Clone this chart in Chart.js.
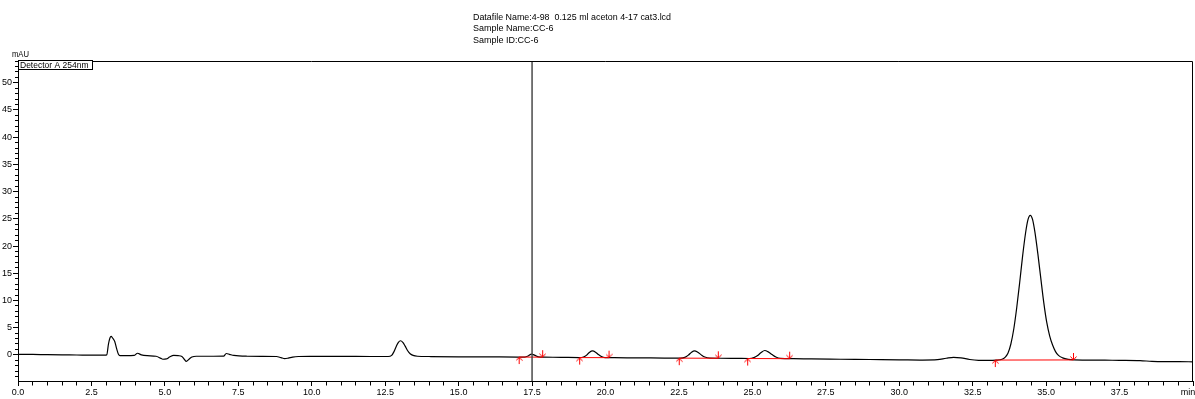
<!DOCTYPE html>
<html>
<head>
<meta charset="utf-8">
<script src="https://cdn.jsdelivr.net/npm/chart.js@4/dist/chart.umd.min.js"></script>
<style>
  html, body { margin: 0; padding: 0; background: #fff; }
  canvas { display: block; }
</style>
</head>
<body>
<canvas id="chromatogram" width="1195" height="399"></canvas>
<script>
// Report header and labels
const headerLines = [
  'Datafile Name:4-98  0.125 ml aceton 4-17 cat3.lcd',
  'Sample Name:CC-6',
  'Sample ID:CC-6'
];
const detectorLabel = 'Detector A 254nm';
const yUnit = 'mAU';
const xTickLabels = ['0.0', '2.5', '5.0', '7.5', '10.0', '12.5', '15.0', '17.5', '20.0',
                     '22.5', '25.0', '27.5', '30.0', '32.5', '35.0', '37.5', 'min'];
const yTickLabels = ['0', '5', '10', '15', '20', '25', '30', '35', '40', '45', '50'];

// Detector A trace: retention time (min) and absorbance (mAU)
const timeMin = [
  0.0, 0.5, 1.0, 1.5, 2.0, 2.5, 2.95, 3.02, 3.08, 3.13, 3.17, 3.22, 3.29, 3.36, 3.42, 3.47,
  3.7, 3.95, 4.07, 4.2, 4.4, 4.7, 4.85, 4.93, 5.05, 5.16, 5.3, 5.45, 5.58, 5.66, 5.73, 5.82,
  5.92, 6.07, 6.5, 7.0, 7.09, 7.2, 7.35, 7.8, 8.3, 8.8, 8.95, 9.08, 9.2, 9.35, 9.55, 10.0,
  11.0, 12.0, 12.6, 12.72, 12.8, 12.88, 12.95, 13.02, 13.1, 13.18, 13.26, 13.35, 13.45, 13.6,
  14.0, 15.0, 16.0, 17.0, 17.25, 17.37, 17.48, 17.6, 17.72, 17.9, 18.5, 19.1, 19.25, 19.36,
  19.46, 19.56, 19.66, 19.76, 19.86, 19.98, 20.3, 21.0, 22.0, 22.55, 22.7, 22.82, 22.93, 23.03,
  23.14, 23.26, 23.38, 23.55, 23.9, 24.5, 24.9, 25.05, 25.18, 25.3, 25.42, 25.54, 25.67, 25.8,
  25.95, 26.4, 27.0, 28.0, 29.0, 30.0, 30.8, 31.3, 31.6, 31.85, 32.1, 32.4, 32.7, 33.0, 33.3,
  33.5, 33.6, 33.7, 33.8, 33.9, 34.0, 34.1, 34.2, 34.3, 34.38, 34.46, 34.54, 34.62, 34.72,
  34.82, 34.92, 35.02, 35.12, 35.22, 35.32, 35.42, 35.56, 35.75, 35.95, 36.5, 37.0, 37.5,
  38.2, 38.6, 39.0, 39.5, 40.0
];
const absorbance = [
  0.1, 0.08, 0.03, 0.0, -0.02, -0.05, -0.05, 0.0, 2.0, 3.1, 3.4, 3.1, 2.5, 1.1, 0.1, -0.15,
  -0.15, -0.1, 0.3, 0.0, -0.15, -0.25, -0.6, -0.8, -0.75, -0.4, -0.1, -0.15, -0.3, -0.8, -1.2, -0.8,
  -0.4, -0.25, -0.25, -0.22, 0.25, 0.1, -0.1, -0.25, -0.27, -0.3, -0.5, -0.7, -0.6, -0.4, -0.3, -0.28,
  -0.27, -0.3, -0.3, -0.1, 0.6, 1.6, 2.3, 2.6, 2.3, 1.6, 0.8, 0.2, -0.1, -0.25,
  -0.3, -0.35, -0.37, -0.4, -0.4, -0.2, 0.15, -0.1, -0.38, -0.42, -0.45, -0.5, -0.4, -0.05,
  0.5, 0.72, 0.5, 0.05, -0.3, -0.5, -0.52, -0.55, -0.58, -0.6, -0.45, -0.05, 0.5, 0.75,
  0.5, 0.0, -0.4, -0.6, -0.62, -0.65, -0.67, -0.5, -0.1, 0.45, 0.8, 0.55, 0.05, -0.4,
  -0.65, -0.7, -0.75, -0.8, -0.85, -0.9, -0.95, -0.88, -0.62, -0.45, -0.55, -0.85, -1.0, -1.02, -0.97,
  -0.8, -0.45, 0.3, 2.0, 4.8, 8.7, 13.3, 18.2, 22.4, 24.8, 25.65, 24.85, 22.5, 18.5,
  14.0, 9.6, 6.0, 3.5, 1.8, 0.6, -0.1, -0.55, -0.82, -0.92, -0.95, -0.98, -1.0,
  -1.05, -1.2, -1.25, -1.25, -1.27
];

// Integration marks: peak start / end times and baseline levels
const peakStart = [17.06, 19.12, 22.51, 24.84, 33.27];
const peakEnd = [17.86, 20.12, 23.84, 26.27, 35.93];
const startLevel = [-0.4, -0.5, -0.6, -0.67, -0.95];
const endLevel = [-0.42, -0.51, -0.62, -0.7, -0.93];

// Cursor position (min)
const cursorTime = 17.5;

const FONT = '"Liberation Sans", Arial, Helvetica, sans-serif';
Chart.defaults.font.family = FONT;
Chart.defaults.color = '#000';

// Small arrow glyphs used as point styles for the integration marks
function makeArrow(up) {
  const c = document.createElement('canvas');
  c.width = 7; c.height = 16;
  const g = c.getContext('2d');
  g.strokeStyle = '#ff0000';
  g.lineWidth = 1;
  g.beginPath();
  if (up) {
    g.moveTo(3.5, 8); g.lineTo(3.5, 15);
    g.moveTo(0.5, 11.5); g.lineTo(3.5, 8); g.lineTo(6.5, 11.5);
  } else {
    g.moveTo(3.5, 1); g.lineTo(3.5, 8);
    g.moveTo(0.5, 4.5); g.lineTo(3.5, 8); g.lineTo(6.5, 4.5);
  }
  g.stroke();
  return c;
}
const upArrow = makeArrow(true);
const downArrow = makeArrow(false);

const traceData = timeMin.map((t, i) => ({ x: t, y: absorbance[i] }));

const baselineSets = peakStart.map((s, i) => ({
  type: 'line',
  data: [{ x: s, y: startLevel[i] }, { x: peakEnd[i], y: endLevel[i] }],
  borderColor: '#ff0000',
  borderWidth: 1,
  pointRadius: 0,
  tension: 0,
  order: 2
}));

const Y_MIN = -4.8, Y_MAX = 54;

// Header text, unit label, detector box and plot frame
const decorations = {
  id: 'decorations',
  afterDraw(chart) {
    const { ctx, chartArea } = chart;
    const widths = [198, 81, 67];
    const rows = [17.5, 29, 40.5];
    ctx.save();
    ctx.fillStyle = '#000';
    ctx.textBaseline = 'middle';
    ctx.textAlign = 'left';
    ctx.font = '9px ' + FONT;
    headerLines.forEach((line, i) => ctx.fillText(line, 473, rows[i], widths[i]));

    ctx.font = '9px ' + FONT;
    ctx.fillText(yUnit, 12, 55, 17);

    // frame: top and right edges
    ctx.strokeStyle = '#000';
    ctx.lineWidth = 1;
    ctx.beginPath();
    ctx.moveTo(chartArea.left, chartArea.top + 0.5);
    ctx.lineTo(chartArea.right - 0.5, chartArea.top + 0.5);
    ctx.lineTo(chartArea.right - 0.5, chartArea.bottom);
    ctx.stroke();

    // detector label box
    ctx.fillStyle = '#fff';
    ctx.fillRect(18.5, 60.5, 74, 9);
    ctx.strokeRect(18.5, 60.5, 74, 9);
    ctx.fillStyle = '#000';
    ctx.font = '8.5px ' + FONT;
    ctx.fillText(detectorLabel, 20, 65.5, 71);
    ctx.restore();
  }
};

new Chart(document.getElementById('chromatogram'), {
  type: 'line',
  data: {
    datasets: [
      {
        data: traceData,
        borderColor: '#000',
        borderWidth: 1.2,
        pointRadius: 0,
        cubicInterpolationMode: 'monotone',
        order: 3
      },
      ...baselineSets,
      {
        type: 'scatter',
        data: peakStart.map((s, i) => ({ x: s, y: startLevel[i] })),
        pointStyle: upArrow,
        pointRadius: 4,
        showLine: false,
        order: 1
      },
      {
        type: 'scatter',
        data: peakEnd.map((e, i) => ({ x: e, y: endLevel[i] })),
        pointStyle: downArrow,
        pointRadius: 4,
        showLine: false,
        order: 1
      },
      {
        type: 'line',
        data: [{ x: cursorTime, y: Y_MIN }, { x: cursorTime, y: Y_MAX }],
        borderColor: '#4a4a4a',
        borderWidth: 1.5,
        pointRadius: 0,
        order: 0
      }
    ]
  },
  options: {
    responsive: false,
    animation: false,
    events: [],
    layout: { autoPadding: false, padding: { top: 61, right: 2, left: 0, bottom: 0 } },
    plugins: {
      legend: { display: false },
      tooltip: { enabled: false },
      title: { display: false }
    },
    scales: {
      x: {
        type: 'linear',
        min: 0,
        max: 40,
        border: { color: '#000', width: 1 },
        grid: {
          drawOnChartArea: false,
          color: '#000',
          tickColor: '#000',
          tickLength: 5,
          tickBorderDash: (c) => (Math.abs(c.tick.value / 2.5 - Math.round(c.tick.value / 2.5)) < 1e-6 ? [] : [3.5, 10])
        },
        ticks: {
          stepSize: 0.5,
          autoSkip: false,
          maxRotation: 0,
          minRotation: 0,
          padding: 1,
          font: { size: 9 },
          color: '#000',
          callback: (v) => {
            const k = v / 2.5;
            if (Math.abs(k - Math.round(k)) > 1e-6) return '';
            const lbl = xTickLabels[Math.round(k)];
            return lbl === 'min' ? lbl + '    ' : lbl;
          }
        },
        afterFit: (s) => { s.height = 18; s.paddingLeft = 0; s.paddingRight = 0; }
      },
      y: {
        type: 'linear',
        min: Y_MIN,
        max: Y_MAX,
        border: { color: '#000', width: 1 },
        grid: {
          drawOnChartArea: false,
          color: '#000',
          tickColor: '#000',
          tickLength: 5,
          tickBorderDash: (c) => (c.tick.value % 5 === 0 ? [] : [3, 10]),
          tickBorderDashOffset: (c) => (c.tick.value % 5 === 0 ? 0 : 11)
        },
        ticks: {
          stepSize: 1,
          includeBounds: false,
          autoSkip: false,
          padding: 1,
          font: { size: 9 },
          color: '#000',
          callback: (v) => (v % 5 === 0 && v >= 0 ? yTickLabels[v / 5] : '')
        },
        afterFit: (s) => { s.width = 18; s.paddingTop = 0; s.paddingBottom = 0; }
      }
    }
  },
  plugins: [decorations]
});
</script>
</body>
</html>
